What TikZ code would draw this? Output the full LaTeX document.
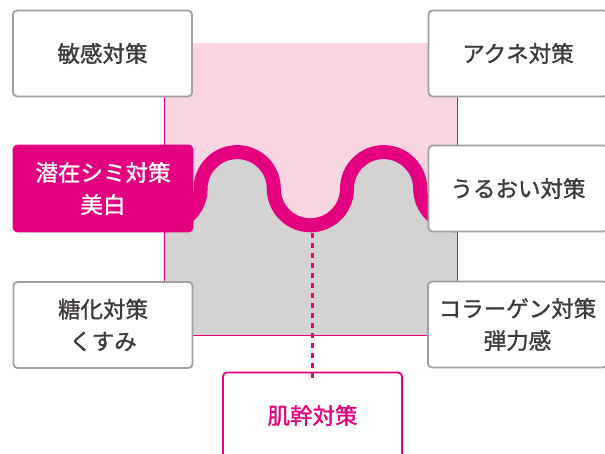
\documentclass[tikz,border=0pt]{standalone}
\usepackage{fontspec}
\setmainfont{Noto Sans CJK JP}[FakeBold=1.2]
\definecolor{mag}{HTML}{E4007F}
\definecolor{pinkbg}{HTML}{F9D5E1}
\definecolor{graybg}{HTML}{D3D3D3}
\definecolor{boxline}{HTML}{A0A0A0}
\definecolor{txt}{HTML}{3E3A39}
\tikzset{
  cbox/.style={draw=boxline, line width=1.8pt, fill=white, rounded corners=4pt,
    minimum width=179pt, minimum height=86pt, inner sep=0pt, align=center,
    text=txt, font=\fontsize{22.5}{32}\selectfont},
  hotbox/.style={cbox, draw=mag, fill=mag, text=white},
  keybox/.style={cbox, draw=mag, text=mag},
  wave/.style={draw=mag, line width=14pt},
  edge/.style={draw=mag, line width=0.7pt},
  dashlink/.style={draw=mag, line width=2.5pt, dash pattern=on 5pt off 5pt}
}
\begin{document}
\begin{tikzpicture}[x=1pt,y=-1pt]
\clip (0,0) rectangle (605,454);
\fill[white] (0,0) rectangle (605,454);
% background square
\fill[pinkbg] (164,43) rectangle (457,335);
\fill[graybg] (164,225.3) arc[start angle=90,end angle=0,radius=36.6]
  arc[start angle=180,end angle=360,radius=36.6]
  arc[start angle=180,end angle=0,radius=36.6]
  arc[start angle=180,end angle=360,radius=36.6]
  arc[start angle=180,end angle=90,radius=36.6]
  -- (457,335) -- (164,335) -- cycle;
\coordinate (tl) at (164,43);
\coordinate (bl) at (164,335);
\coordinate (br) at (457,335);
\coordinate (tr) at (457,43);
\draw[edge] (tl) -- (bl) -- (br) -- (tr);
% wave
\draw[wave] (164,225.3) arc[start angle=90,end angle=0,radius=36.6]
  arc[start angle=180,end angle=360,radius=36.6]
  arc[start angle=180,end angle=0,radius=36.6]
  arc[start angle=180,end angle=360,radius=36.6]
  arc[start angle=180,end angle=90,radius=36.6];
\coordinate (dipb) at (312.5,233);
% boxes
\node[cbox] (binkan) at (102.5,53.5) {敏感対策};
\node[cbox] (acne) at (518,53.5) {アクネ対策};
\node[hotbox] (senzai) at (103,188.5) {潜在シミ対策\\美白};
\node[cbox] (uruoi) at (518,188.5) {うるおい対策};
\node[cbox] (touka) at (103,325) {糖化対策\\くすみ};
\node[cbox] (collagen) at (517.5,324.5) {コラーゲン対策\\弾力感};
\node[keybox] (hakan) at (312.5,415.5) {肌幹対策};
\draw[dashlink] (dipb) -- ([yshift=-7pt]hakan.north);
\end{tikzpicture}
\end{document}
